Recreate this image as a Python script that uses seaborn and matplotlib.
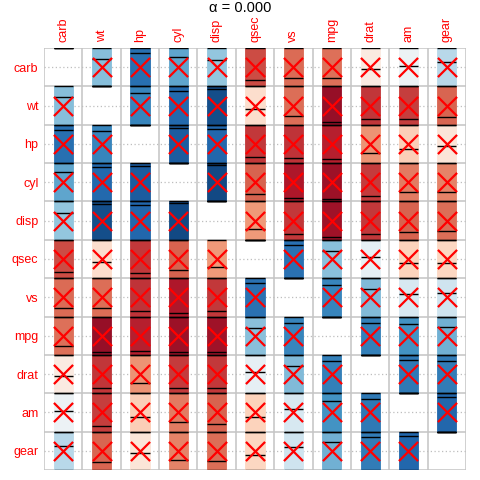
import numpy as np
import pandas as pd
import matplotlib
matplotlib.use("Agg")
import matplotlib.pyplot as plt
import seaborn as sns

# ---- data (mtcars correlations, hclust order) ----
variables = ["carb", "wt", "hp", "cyl", "disp", "qsec", "vs", "mpg", "drat", "am", "gear"]
pair_a = ["mpg", "mpg", "mpg", "mpg", "mpg", "mpg", "mpg", "mpg", "mpg", "mpg",
          "cyl", "cyl", "cyl", "cyl", "cyl", "cyl", "cyl", "cyl", "cyl",
          "disp", "disp", "disp", "disp", "disp", "disp", "disp", "disp",
          "hp", "hp", "hp", "hp", "hp", "hp", "hp",
          "drat", "drat", "drat", "drat", "drat", "drat",
          "wt", "wt", "wt", "wt", "wt",
          "qsec", "qsec", "qsec", "qsec",
          "vs", "vs", "vs",
          "am", "am",
          "gear"]
pair_b = ["cyl", "disp", "hp", "drat", "wt", "qsec", "vs", "am", "gear", "carb",
          "disp", "hp", "drat", "wt", "qsec", "vs", "am", "gear", "carb",
          "hp", "drat", "wt", "qsec", "vs", "am", "gear", "carb",
          "drat", "wt", "qsec", "vs", "am", "gear", "carb",
          "wt", "qsec", "vs", "am", "gear", "carb",
          "qsec", "vs", "am", "gear", "carb",
          "vs", "am", "gear", "carb",
          "am", "gear", "carb",
          "gear", "carb",
          "carb"]
pair_r = [-0.852, -0.848, -0.776, 0.681, -0.868, 0.419, 0.664, 0.600, 0.480, -0.551,
          0.902, 0.832, -0.700, 0.782, -0.591, -0.811, -0.523, -0.493, 0.527,
          0.791, -0.710, 0.888, -0.434, -0.710, -0.591, -0.556, 0.395,
          -0.449, 0.659, -0.708, -0.723, -0.243, -0.126, 0.750,
          -0.712, 0.091, 0.440, 0.713, 0.700, -0.091,
          -0.175, -0.555, -0.692, -0.583, 0.428,
          0.745, -0.230, -0.213, -0.656,
          0.168, 0.206, -0.570,
          0.794, 0.058,
          0.274]
sig_level = 0.0

n = len(variables)
idx = {v: k for k, v in enumerate(variables)}
corr = np.eye(n)
for a, b, r in zip(pair_a, pair_b, pair_r):
    corr[idx[a], idx[b]] = r
    corr[idx[b], idx[a]] = r
# confidence interval at level 1 - alpha = 1 -> [-1, 1]; diagonal -> [1, 1]
low_ci = np.where(np.eye(n) == 1, 1.0, -1.0)
upp_ci = np.ones((n, n))

rows = []
for i in range(n):
    for j in range(n):
        rows.append(dict(row=variables[i], col=variables[j], x=j + 0.5, y=i + 0.5,
                         r=corr[i, j], low=low_ci[i, j], upp=upp_ci[i, j], diag=(i == j)))
df = pd.DataFrame(rows)

# ---- plot ----
sns.set_theme(style="white")
plt.rcParams["font.family"] = ["Liberation Sans", "DejaVu Sans"]

fig = plt.figure(figsize=(4.8, 4.8), dpi=100)
ax = fig.add_axes([44 / 480, 10 / 480, 422 / 480, 422 / 480])
ax.set_xlim(0, n)
ax.set_ylim(n, 0)

grid_col = "#C4C4C4"
for k in range(n + 1):
    ax.axvline(k, color=grid_col, lw=1.1, zorder=1)
    ax.axhline(k, color=grid_col, lw=1.1, zorder=1)
for i in range(n):
    ax.axhline(i + 0.5, color="#BEBEBE", lw=0.9, ls=(0, (1, 2)), zorder=1)

cmap = plt.get_cmap("RdBu")
norm = matplotlib.colors.Normalize(-1, 1)
half_w = 0.25
off = df[~df["diag"]]
ax.bar(off["x"], (off["upp"] - off["low"]) / 2, bottom=off["y"] - off["upp"] / 2,
       width=2 * half_w, color=[cmap(norm(v)) for v in off["r"]],
       edgecolor=[cmap(norm(v)) for v in off["r"]], linewidth=0.6, zorder=2)

# black segments: correlation, lower and upper bounds
for col in ["r", "low", "upp"]:
    ax.hlines(df["y"] - df[col] / 2, df["x"] - half_w, df["x"] + half_w,
              color="black", lw=1.0, zorder=3)

# crosses for insignificant cells (alpha = 0 -> all off-diagonal)
sns.scatterplot(data=off, x="x", y="y", marker="x", color="#FF0000", s=190,
                linewidth=1.6, ax=ax, zorder=4, legend=False)

ax.set_xticks(np.arange(n) + 0.5)
ax.set_xticklabels(variables, rotation=90, color="#FF0000", fontsize=9)
ax.set_yticks(np.arange(n) + 0.5)
ax.set_yticklabels(variables, color="#FF0000", fontsize=9)
ax.xaxis.tick_top()
ax.tick_params(length=0, pad=4)
ax.set_xlabel("")
ax.set_ylabel("")
for s in ax.spines.values():
    s.set_visible(False)

fig.text(0.5, 1 - 8 / 480, "α = %.3f" % sig_level, ha="center", va="center",
         fontsize=10.5, color="black")

fig.savefig("out.png", dpi=100)
